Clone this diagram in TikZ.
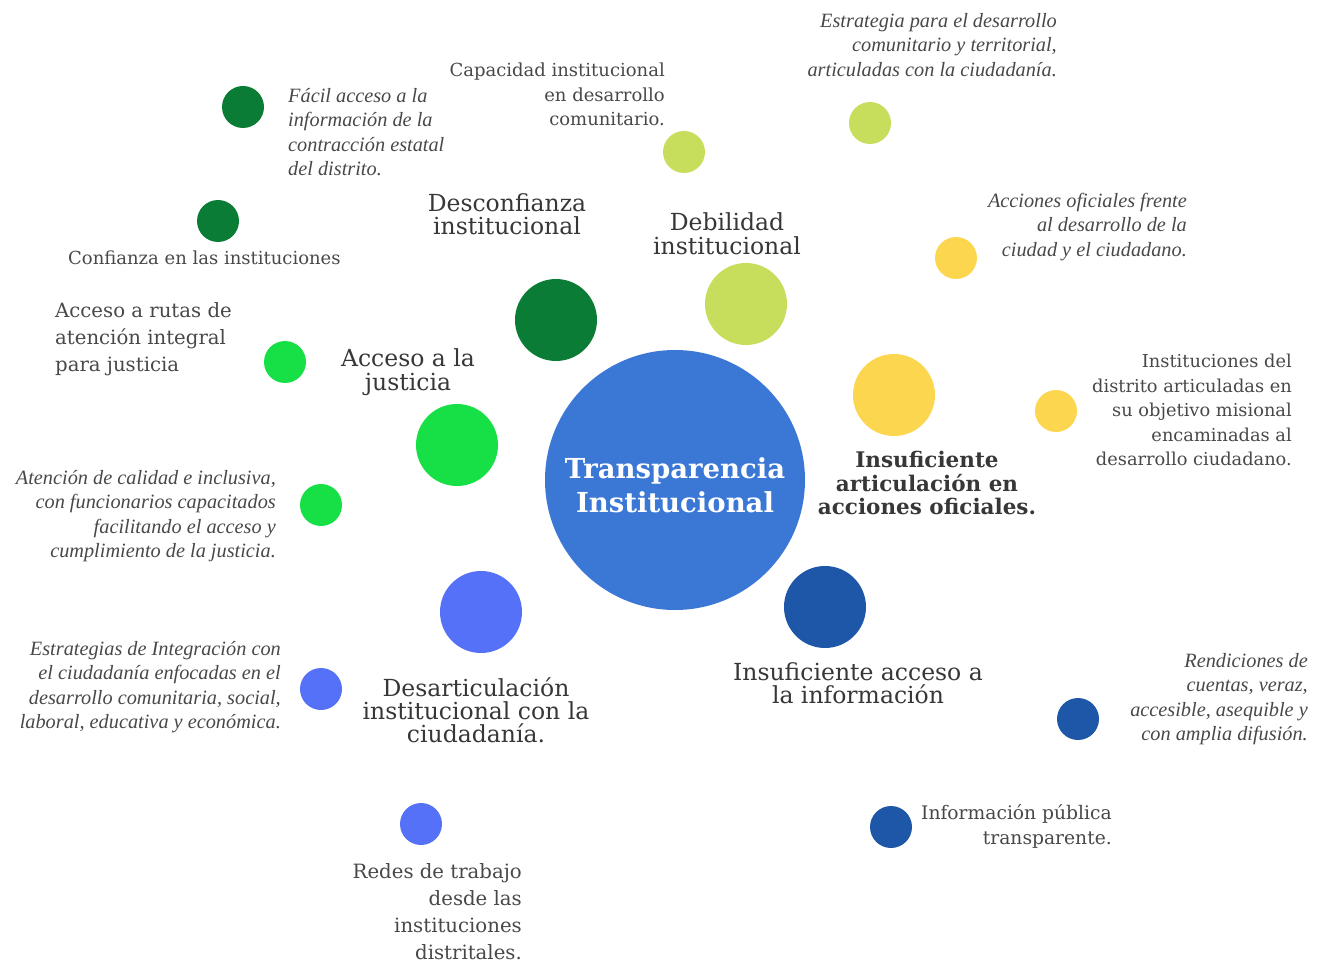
\documentclass[tikz,border=0pt]{standalone}
\usepackage{fontspec}
\setmainfont{DejaVu Serif}
\newfontfamily\notefont{Liberation Serif}

\definecolor{azulcentro}{RGB}{59,120,214}
\definecolor{verdeoscuro}{RGB}{10,124,53}
\definecolor{verdelima}{RGB}{199,222,92}
\definecolor{amarillo}{RGB}{253,214,79}
\definecolor{verdevivo}{RGB}{23,224,70}
\definecolor{azulclaro}{RGB}{85,113,247}
\definecolor{azuloscuro}{RGB}{30,86,168}
\definecolor{textogris}{RGB}{72,72,72}
\definecolor{titulogris}{RGB}{55,55,55}

\begin{document}
\begin{tikzpicture}[x=1pt, y=-1pt,
    bigdot/.style={circle, fill=#1, inner sep=0pt, minimum size=82pt},
    smalldot/.style={circle, fill=#1, inner sep=0pt, minimum size=42pt},
    headline/.style={align=center, anchor=north, inner sep=0pt, text=titulogris,
        font=\fontsize{23.5}{23}\selectfont},
    note/.style={inner sep=0pt, text=textogris, font=\fontsize{18}{24.5}\selectfont},
    notebig/.style={inner sep=0pt, text=textogris, font=\fontsize{19.7}{27}\selectfont},
    noteit/.style={inner sep=0pt, text=textogris, font=\notefont\itshape\fontsize{20.3}{24.5}\selectfont}]
    \useasboundingbox (0,0) rectangle (1319,965);

    % centre
    \node[circle, fill=azulcentro, inner sep=0pt, minimum size=260pt] (centro) at (675,480) {};
    \node[align=center, anchor=north, inner sep=0pt, text=white,
        font=\bfseries\fontsize{27.5}{34}\selectfont] (titulo) at (675,457.5) {Transparencia\\Institucional};

    % main circles
    \node[bigdot=verdeoscuro] (desconfianza) at (556,320) {};
    \node[bigdot=verdelima] (debilidad) at (746,304) {};
    \node[bigdot=amarillo] (articulacion) at (894,395) {};
    \node[bigdot=verdevivo] (justicia) at (457,445) {};
    \node[bigdot=azulclaro] (desarticulacion) at (481,612) {};
    \node[bigdot=azuloscuro] (informacion) at (825,607) {};

    % headlines
    \node[headline] (tdesconfianza) at (507,193.6) {Desconfianza\\institucional};
    \node[headline, font=\fontsize{23.5}{24}\selectfont] (tdebilidad) at (727,212.6) {Debilidad\\institucional};
    \node[headline, font=\fontsize{23.5}{24}\selectfont] (tjusticia) at (408,348.6) {Acceso a la\\justicia};
    \node[headline, font=\bfseries\fontsize{21.5}{23.5}\selectfont] (tarticulacion) at (927,451.4) {Insuficiente\\articulación en\\acciones oficiales.};
    \node[headline] (tinformacion) at (858,662.6) {Insuficiente acceso a\\la información};
    \node[headline] (tdesarticulacion) at (476,677.6) {Desarticulación\\institucional con la\\ciudadanía.};

    % small circles
    \node[smalldot=verdeoscuro] (dfacil) at (243,107) {};
    \node[smalldot=verdeoscuro] (dconfianza) at (218,221) {};
    \node[smalldot=verdelima] (dcapacidad) at (684,152) {};
    \node[smalldot=verdelima] (destrategia) at (870,123) {};
    \node[smalldot=amarillo] (dacciones) at (956,258) {};
    \node[smalldot=amarillo] (dinstituciones) at (1056,411) {};
    \node[smalldot=verdevivo] (drutas) at (285,362) {};
    \node[smalldot=verdevivo] (datencion) at (321,505) {};
    \node[smalldot=azulclaro] (destrategias) at (321,689) {};
    \node[smalldot=azulclaro] (dredes) at (421,824) {};
    \node[smalldot=azuloscuro] (drendiciones) at (1078,719) {};
    \node[smalldot=azuloscuro] (dpublica) at (891,827) {};

    % notes
    \node[noteit, align=left, anchor=north west] (nfacil) at (288,87.9) {Fácil acceso a la\\información de la\\contracción estatal\\del distrito.};
    \node[note, align=left, anchor=north west] (nconfianza) at (68,250.8) {Confianza en las instituciones};
    \node[note, align=right, anchor=north east] (ncapacidad) at (665,62.8) {Capacidad institucional\\en desarrollo\\comunitario.};
    \node[noteit, align=right, anchor=north east] (nestrategia) at (1057,12.9) {Estrategia para el desarrollo\\comunitario y territorial,\\articuladas con la ciudadanía.};
    \node[noteit, align=right, anchor=north east] (nacciones) at (1187,192.9) {Acciones oficiales frente\\al desarrollo de la\\ciudad y el ciudadano.};
    \node[note, align=right, anchor=north east, font=\fontsize{17.8}{24.5}\selectfont] (ninstituciones) at (1292,353.9) {Instituciones del\\distrito articuladas en\\su objetivo misional\\encaminadas al\\desarrollo ciudadano.};
    \node[notebig, align=left, anchor=north west] (nrutas) at (55,302) {Acceso a rutas de\\atención integral\\para justicia};
    \node[noteit, align=right, anchor=north east] (natencion) at (276,469.9) {Atención de calidad e inclusiva,\\con funcionarios capacitados\\facilitando el acceso y\\cumplimiento de la justicia.};
    \node[noteit, align=right, anchor=north east] (nestrategias) at (281,640.9) {Estrategias de Integración con\\el ciudadanía enfocadas en el\\desarrollo comunitaria, social,\\laboral, educativa y económica.};
    \node[notebig, align=right, anchor=north east] (nredes) at (522,863) {Redes de trabajo\\desde las\\instituciones\\distritales.};
    \node[noteit, align=right, anchor=north east] (nrendiciones) at (1308,652.9) {Rendiciones de\\cuentas, veraz,\\accesible, asequible y\\con amplia difusión.};
    \node[note, align=right, anchor=north east, font=\fontsize{18.7}{25}\selectfont] (npublica) at (1112,804.5) {Información pública\\transparente.};
\end{tikzpicture}
\end{document}
